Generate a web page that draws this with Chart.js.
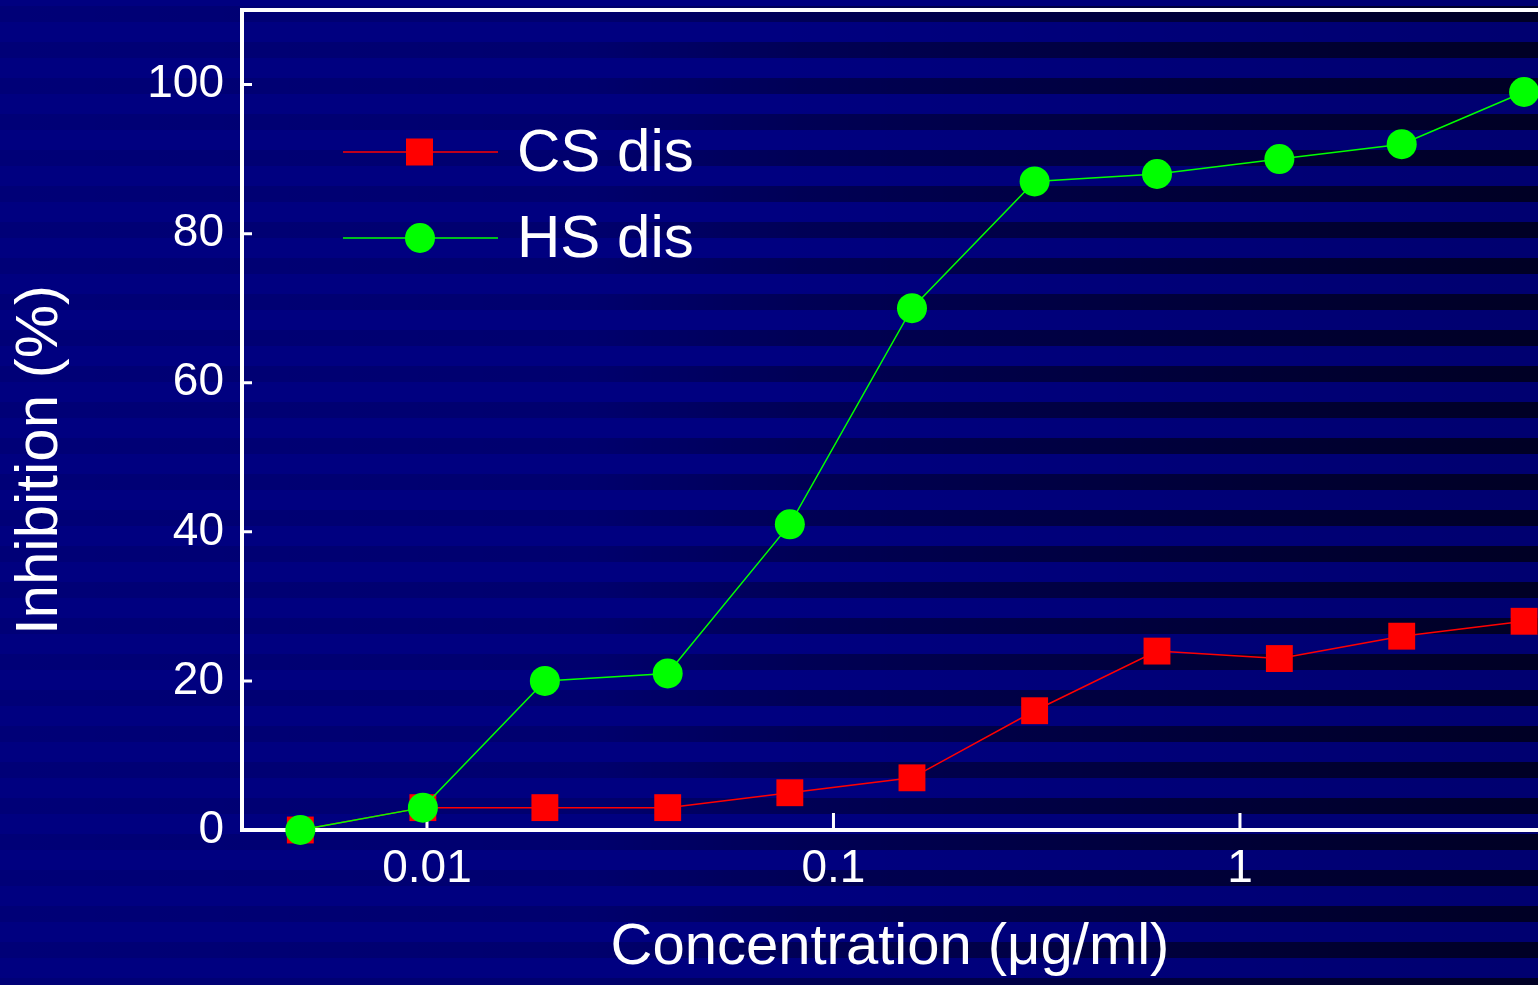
<!DOCTYPE html>
<html>
<head>
<meta charset="utf-8">
<script src="https://cdn.jsdelivr.net/npm/chart.js@4.4.1/dist/chart.umd.min.js"></script>
<style>
  html, body { margin: 0; padding: 0; background: #000080; overflow: hidden; }
</style>
</head>
<body>
<canvas id="chart" width="1538" height="985"></canvas>
<script>
// Concentrations (two-fold dilutions, ug/ml) and inhibition values (%)
const concentrations = [0.00488, 0.00977, 0.0195, 0.0391, 0.0781, 0.156, 0.3125, 0.625, 1.25, 2.5, 5];
const csDis = [0, 3, 3, 3, 5, 7, 16, 24, 23, 26, 28];
const hsDis = [0, 3, 20, 21, 41, 70, 87, 88, 90, 92, 99];
const seriesLabels = ['CS dis', 'HS dis'];
const xTicks = [0.01, 0.1, 1];
const yTicks = [0, 20, 40, 60, 80, 100];

const FONT = "'Liberation Sans', Arial, sans-serif";

function toPoints(values) {
  return concentrations.map((c, i) => ({ x: c, y: values[i] }));
}

// Navy background with horizontal stripes that get stronger to the right
const backgroundPlugin = {
  id: 'stripes',
  beforeDraw(chart) {
    const ctx = chart.ctx;
    const w = chart.width, h = chart.height;
    ctx.save();
    ctx.fillStyle = '#000080';
    ctx.fillRect(0, 0, w, h);

    const shade = ctx.createLinearGradient(0, 0, w, 0);
    shade.addColorStop(0, 'rgba(0,0,0,0)');
    shade.addColorStop(0.5, 'rgba(0,0,0,0)');
    shade.addColorStop(1, 'rgba(0,0,0,0.13)');
    ctx.fillStyle = shade;
    ctx.fillRect(0, 0, w, h);

    const bands = ctx.createLinearGradient(0, 0, w, 0);
    bands.addColorStop(0, 'rgba(0,0,0,0.07)');
    bands.addColorStop(0.38, 'rgba(0,0,0,0.14)');
    bands.addColorStop(0.52, 'rgba(0,0,0,0.33)');
    bands.addColorStop(0.75, 'rgba(0,0,0,0.5)');
    bands.addColorStop(1, 'rgba(0,0,0,0.68)');
    ctx.fillStyle = bands;
    for (let y = 6; y < h; y += 36) {
      ctx.fillRect(0, y, w, 16);
    }
    ctx.restore();
  }
};

// Top frame line and inward tick marks
const framePlugin = {
  id: 'frame',
  beforeDatasetsDraw(chart) {
    const ctx = chart.ctx;
    const area = chart.chartArea;
    const xs = chart.scales.x, ys = chart.scales.y;
    ctx.save();
    ctx.strokeStyle = '#ffffff';
    ctx.lineWidth = 4;
    ctx.beginPath();
    ctx.moveTo(area.left - 2, area.top);
    ctx.lineTo(area.right, area.top);
    ctx.stroke();

    ctx.lineWidth = 3;
    ctx.beginPath();
    xs.ticks.forEach(t => {
      const px = xs.getPixelForValue(t.value);
      ctx.moveTo(px, area.bottom);
      ctx.lineTo(px, area.bottom - 17);
    });
    ys.ticks.forEach(t => {
      const py = ys.getPixelForValue(t.value);
      ctx.moveTo(area.left, py);
      ctx.lineTo(area.left + 10, py);
    });
    ctx.stroke();
    ctx.restore();
  }
};

// Legend inside the plot and the rotated y title
const legendPlugin = {
  id: 'insideLegend',
  afterDraw(chart) {
    const ctx = chart.ctx;
    ctx.save();
    const rows = [152, 238];
    chart.data.datasets.forEach((ds, i) => {
      const y = rows[i];
      ctx.strokeStyle = ds.borderColor;
      ctx.lineWidth = ds.borderWidth;
      ctx.beginPath();
      ctx.moveTo(343, y);
      ctx.lineTo(498, y);
      ctx.stroke();
      ctx.fillStyle = ds.backgroundColor;
      if (ds.pointStyle === 'rect') {
        ctx.fillRect(406, y - 13.5, 27, 27);
      } else {
        ctx.beginPath();
        ctx.arc(420, y, 15, 0, Math.PI * 2);
        ctx.fill();
      }
      ctx.fillStyle = '#ffffff';
      ctx.font = '60px ' + FONT;
      ctx.textAlign = 'left';
      ctx.textBaseline = 'middle';
      ctx.fillText(ds.label, 517, y + 2);
    });

    ctx.translate(40, 460);
    ctx.rotate(-Math.PI / 2);
    ctx.font = '60px ' + FONT;
    ctx.textAlign = 'center';
    ctx.textBaseline = 'middle';
    ctx.fillStyle = '#ffffff';
    ctx.fillText('Inhibition (%)', 0, 0);
    ctx.restore();
  }
};

const ctx = document.getElementById('chart').getContext('2d');
const chart = new Chart(ctx, {
  type: 'line',
  data: {
    datasets: [
      {
        label: seriesLabels[0],
        data: toPoints(csDis),
        borderColor: '#ff0000',
        backgroundColor: '#ff0000',
        borderWidth: 1.5,
        pointStyle: 'rect',
        pointRadius: 19,
        pointHoverRadius: 19,
        pointBorderWidth: 0,
        tension: 0,
        clip: false,
        order: 1
      },
      {
        label: seriesLabels[1],
        data: toPoints(hsDis),
        borderColor: '#00ff00',
        backgroundColor: '#00ff00',
        borderWidth: 1.5,
        pointStyle: 'circle',
        pointRadius: 15,
        pointHoverRadius: 15,
        pointBorderWidth: 0,
        tension: 0,
        clip: false,
        order: 0
      }
    ]
  },
  options: {
    responsive: false,
    devicePixelRatio: 1,
    animation: false,
    layout: { autoPadding: false, padding: { top: 10, right: 0, left: 0, bottom: 0 } },
    plugins: {
      legend: { display: false },
      tooltip: { enabled: false }
    },
    scales: {
      x: {
        type: 'logarithmic',
        position: 'bottom',
        min: 0.003507,
        max: 5.41,
        afterFit: s => {
          s.height = 155;
          s.paddingLeft = 0;
          s.paddingRight = 0;
        },
        afterBuildTicks: s => { s.ticks = xTicks.map(v => ({ value: v })); },
        grid: { display: false, drawTicks: false },
        border: { display: true, color: '#ffffff', width: 4 },
        ticks: {
          color: '#ffffff',
          font: { size: 46, family: FONT },
          padding: 12,
          autoSkip: false,
          maxRotation: 0,
          callback: v => String(v)
        },
        title: {
          display: true,
          text: 'Concentration (\u03bcg/ml)',
          color: '#ffffff',
          font: { size: 58, family: FONT },
          padding: { top: 0, bottom: 2 }
        }
      },
      y: {
        type: 'linear',
        min: 0,
        max: 110,
        afterFit: s => {
          s.width = 242;
          s.paddingTop = 0;
          s.paddingBottom = 0;
        },
        afterBuildTicks: s => { s.ticks = yTicks.map(v => ({ value: v })); },
        grid: { display: false, drawTicks: false },
        border: { display: true, color: '#ffffff', width: 4 },
        ticks: {
          color: '#ffffff',
          font: { size: 46, family: FONT },
          padding: 18
        }
      }
    }
  },
  plugins: [backgroundPlugin, framePlugin, legendPlugin]
});
</script>
</body>
</html>
